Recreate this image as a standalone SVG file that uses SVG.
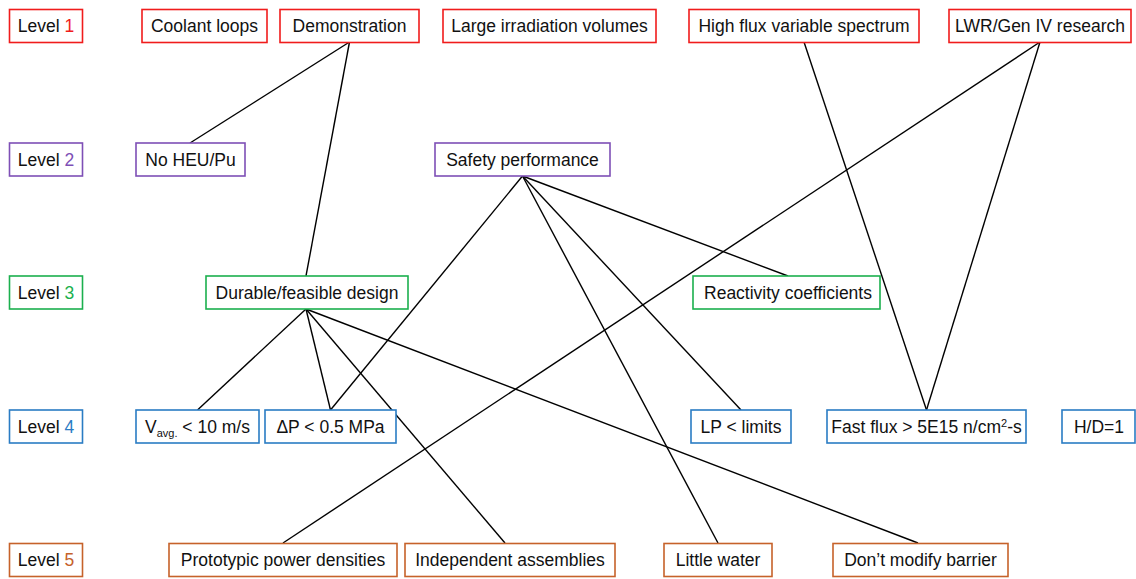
<svg xmlns="http://www.w3.org/2000/svg" width="1136" height="579" viewBox="0 0 1136 579">
<style>
rect{fill:#fff;stroke-width:1.6}
text{font-family:"Liberation Sans",Arial,sans-serif;font-size:17.5px;fill:#111;text-anchor:middle}
.l1 rect{stroke:#f01c1c}.l1 tspan.n{fill:#f01c1c}
.l2 rect{stroke:#7e4fb6}.l2 tspan.n{fill:#7e4fb6}
.l3 rect{stroke:#1bb04e}.l3 tspan.n{fill:#1bb04e}
.l4 rect{stroke:#2a7cc4}.l4 tspan.n{fill:#2a7cc4}
.l5 rect{stroke:#c6622a}.l5 tspan.n{fill:#c6622a}
#connectors line{stroke:#000;stroke-width:1.4}
</style>
<g id="connectors">
<line x1="349.5" y1="42" x2="190" y2="143"/>
<line x1="349.5" y1="42" x2="306" y2="276"/>
<line x1="804" y1="42" x2="926.5" y2="410"/>
<line x1="1040" y1="42" x2="926.5" y2="410"/>
<line x1="1040" y1="42" x2="283" y2="543"/>
<line x1="522.5" y1="176" x2="330.5" y2="410"/>
<line x1="522.5" y1="176" x2="788" y2="276"/>
<line x1="522.5" y1="176" x2="741" y2="410"/>
<line x1="522.5" y1="176" x2="718" y2="543"/>
<line x1="306" y1="309" x2="197.5" y2="410"/>
<line x1="306" y1="309" x2="330.5" y2="410"/>
<line x1="306" y1="309" x2="505" y2="543"/>
<line x1="306" y1="309" x2="918" y2="543"/>
</g>
<g class="l1">
<g id="level1"><rect x="9.5" y="9.5" width="73" height="33"/><text x="46" y="32">Level <tspan class="n">1</tspan></text></g>
<g id="coolant-loops"><rect x="142" y="9.5" width="125" height="33"/><text x="204.5" y="32">Coolant loops</text></g>
<g id="demonstration"><rect x="280" y="9.5" width="139" height="33"/><text x="349.5" y="32">Demonstration</text></g>
<g id="large-irradiation"><rect x="443" y="9.5" width="213" height="33"/><text x="549.5" y="32">Large irradiation volumes</text></g>
<g id="high-flux"><rect x="689" y="9.5" width="230" height="33"/><text x="804" y="32">High flux variable spectrum</text></g>
<g id="lwr-gen4"><rect x="949" y="9.5" width="182" height="33"/><text x="1040" y="32">LWR/Gen IV research</text></g>
</g>
<g class="l2">
<g id="level2"><rect x="9.5" y="143" width="73" height="33"/><text x="46" y="165.5">Level <tspan class="n">2</tspan></text></g>
<g id="no-heu"><rect x="136" y="143" width="109" height="33"/><text x="190.5" y="165.5">No HEU/Pu</text></g>
<g id="safety"><rect x="435" y="143" width="175" height="33"/><text x="522.5" y="165.5">Safety performance</text></g>
</g>
<g class="l3">
<g id="level3"><rect x="9.5" y="276" width="73" height="33"/><text x="46" y="298.5">Level <tspan class="n">3</tspan></text></g>
<g id="durable"><rect x="206" y="276" width="202" height="33"/><text x="307" y="298.5">Durable/feasible design</text></g>
<g id="reactivity"><rect x="693" y="276" width="187" height="33"/><text x="788" y="298.5">Reactivity coefficients</text></g>
</g>
<g class="l4">
<g id="level4"><rect x="9.5" y="410" width="73" height="33"/><text x="46" y="432.5">Level <tspan class="n">4</tspan></text></g>
<g id="vavg"><rect x="136" y="410" width="123" height="33"/><text x="197.5" y="432.5">V<tspan font-size="11" dy="4">avg.</tspan><tspan dy="-4"> &lt; 10 m/s</tspan></text></g>
<g id="dp"><rect x="265" y="410" width="131" height="33"/><text x="330.5" y="432.5">ΔP &lt; 0.5 MPa</text></g>
<g id="lp"><rect x="691" y="410" width="100" height="33"/><text x="741" y="432.5">LP &lt; limits</text></g>
<g id="fast-flux"><rect x="827" y="410" width="199" height="33"/><text x="926.5" y="432.5">Fast flux &gt; 5E15 n/cm<tspan font-size="11" dy="-6">2</tspan><tspan dy="6">-s</tspan></text></g>
<g id="hd"><rect x="1062" y="410" width="73" height="33"/><text x="1099" y="432.5">H/D=1</text></g>
</g>
<g class="l5">
<g id="level5"><rect x="9.5" y="543.5" width="73" height="33"/><text x="46" y="566">Level <tspan class="n">5</tspan></text></g>
<g id="prototypic"><rect x="169" y="543.5" width="228" height="33"/><text x="283" y="566">Prototypic power densities</text></g>
<g id="independent"><rect x="405" y="543.5" width="210" height="33"/><text x="510" y="566">Independent assemblies</text></g>
<g id="little-water"><rect x="664" y="543.5" width="108" height="33"/><text x="718" y="566">Little water</text></g>
<g id="dont-modify"><rect x="833" y="543.5" width="175" height="33"/><text x="920.5" y="566">Don’t modify barrier</text></g>
</g>
</svg>
